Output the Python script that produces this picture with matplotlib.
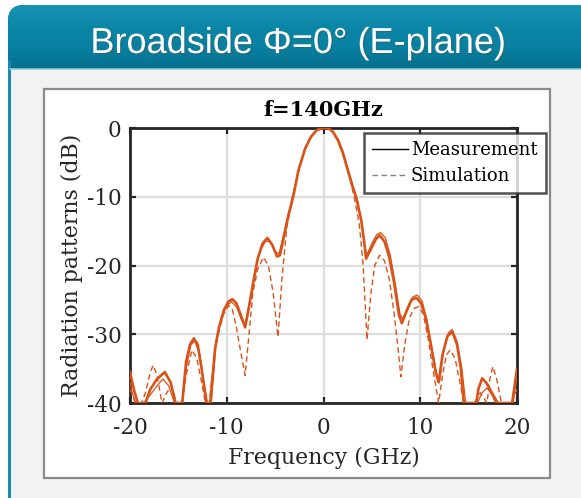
import matplotlib
matplotlib.use("Agg")
import matplotlib.pyplot as plt
import numpy as np
from matplotlib.patches import Rectangle, FancyBboxPatch
from matplotlib.lines import Line2D
import matplotlib.patheffects as pe

plt.rcParams['axes.unicode_minus'] = False

# ---- data: radiation pattern cuts (offset frequency in GHz, level in dB) ----
meas_x = [-20, -19.6, -19.2, -18.4, -17.9, -17.2, -16.4, -15.8, -15.3, -14.6, -14.2, -13.8,
          -13.4, -13.0, -12.6, -12.1, -11.7, -11.2, -10.8, -10.3, -9.8, -9.4, -9.0, -8.6,
          -8.1, -7.7, -7.2, -6.8, -6.3, -5.8, -5.3, -4.8, -4.5, -4.2, -3.7, -3.1, -2.6,
          -1.9, -1.3, -0.7, 0.0, 0.5, 1.0, 1.5, 2.0, 2.5, 3.0, 3.4, 3.9, 4.2, 4.4, 4.9,
          5.4, 5.8, 6.3, 6.8, 7.3, 7.8, 8.1, 8.6, 9.1, 9.6, 10.1, 10.6, 11.1, 11.6, 11.9,
          12.3, 12.8, 13.3, 13.8, 14.2, 14.5, 15.8, 16.0, 16.4, 16.9, 17.4, 18.0, 19.5,
          19.8, 20.0]
meas_db = [-35.5, -38, -40, -40, -38, -36.5, -35.5, -37, -40, -40, -34, -31.5,
           -30.6, -31.5, -35, -40, -40, -32, -29, -26.5, -25.2, -24.9, -25.5, -27,
           -29, -26, -22, -19, -16.8, -16, -17, -18.7, -18.5, -16.5, -13.2, -9.8, -6.2,
           -3.0, -1.3, -0.3, 0, 0, -0.6, -1.8, -3.6, -6.1, -8.5, -10.2, -13.4, -16.5, -19.0, -17.6,
           -16.2, -15.6, -16.5, -18.8, -22.5, -27.2, -28.4, -26.6, -25.0, -24.7, -25.5, -27.8, -31.5, -35.5, -37.0,
           -33.0, -30.3, -29.6, -31.5, -35, -40, -40, -38, -36.4, -37.2, -38.5, -40, -40,
           -37, -35]

meas2_x = [-20, -19.5, -18.6, -18.0, -17.2, -16.6, -16.0, -15.4, -14.6, -14.2, -13.7, -13.3,
           -12.8, -12.3, -12.0, -11.6, -11.1, -10.6, -10.0, -9.5, -9.0, -8.5, -8.1, -7.6,
           -7.1, -6.6, -6.0, -5.5, -5.0, -4.6, -4.2, -3.7, -3.1, -2.5, -1.9, -1.2, -0.5,
           0.3, 0.9, 1.5, 2.0, 2.5, 3.0, 3.5, 3.9, 4.3, 4.5, 5.0, 5.5, 5.9, 6.4, 6.9, 7.4,
           7.9, 8.2, 8.7, 9.2, 9.7, 10.2, 10.7, 11.2, 11.7, 12.0, 12.4, 12.9, 13.3, 13.8,
           14.3, 14.7, 15.9, 16.4, 16.9, 17.4, 17.8, 19.6, 20.0]
meas2_db = [-37, -40, -40, -39, -37.5, -36.5, -37.5, -40, -40, -35, -31.5, -31,
            -33, -37.5, -40, -40, -31, -27.8, -25.8, -25.3, -26, -27.8, -28.8, -25,
            -21, -18, -16.5, -16.5, -18, -18.3, -16, -12.8, -9.4, -5.8, -2.9, -1.0, -0.1,
            0, -0.4, -1.6, -3.4, -5.8, -8.2, -10.5, -13.6, -17.5, -18.4, -16.8, -15.5, -15.2, -16.0, -18.5, -22.5,
            -27.0, -27.8, -26, -24.6, -24.3, -25.2, -28, -32, -36, -36.8, -32.5, -29.8, -29.3, -31,
            -35, -40, -40, -38.5, -37.8, -38.8, -40, -40, -36]

sim_x = [-20, -19.4, -18.8, -18.4, -17.9, -17.6, -17.2, -16.7, -16.2, -15.7, -15.2, -14.6,
         -14.2, -13.6, -13.1, -12.6, -12.2, -11.8, -11.3, -10.8, -10.3, -9.8, -9.4, -9.0,
         -8.5, -8.1, -7.7, -7.3, -6.8, -6.2, -5.7, -5.2, -4.7, -4.3, -3.8, -3.2, -2.6,
         -2.0, -1.4, -0.7, 0.2, 0.9, 1.5, 2.1, 2.7, 3.2, 3.7, 4.1, 4.5, 4.9, 5.3, 5.8,
         6.3, 6.8, 7.3, 7.7, 8.0, 8.4, 8.9, 9.4, 9.8, 10.3, 10.8, 11.3, 11.9, 12.3, 12.7,
         13.1, 13.6, 14.1, 14.5, 15.6, 16.2, 16.9, 17.2, 17.5, 17.9, 18.4, 19.4, 20.0]
sim_db = [-38, -40, -40, -38.5, -35.5, -34.5, -36, -40, -38.5, -37.5, -40, -40,
          -36, -32.3, -33.5, -37, -40, -40, -33, -29.5, -27, -25.8, -26.5, -29,
          -33, -36, -30, -24, -20.5, -18.8, -20, -24, -30.4, -22, -14.5, -10, -6.5,
          -3.5, -1.5, -0.3, 0, -0.4, -1.9, -4.2, -7.2, -10.2, -14, -20, -30.8, -24, -20, -18.5,
          -19.3, -22, -27, -32, -36.2, -31.5, -27.5, -26.2, -26, -27, -30.5, -35, -40, -36, -33,
          -32.3, -33.5, -37, -40, -40, -38.5, -40, -36.5, -34.7, -36.5, -40, -40, -38]

x_ticks = [-20, -10, 0, 10, 20]
y_ticks = [-40, -30, -20, -10, 0]

W, H = 581, 498
fig = plt.figure(figsize=(W / 100, H / 100), dpi=100)
fig.patch.set_facecolor('white')

# ---- slide frame drawn in pixel coordinates ----
bg = fig.add_axes([0, 0, 1, 1], zorder=-5)
bg.set_xlim(0, W)
bg.set_ylim(H, 0)
bg.axis('off')

header = FancyBboxPatch((8, 5), W + 30, 110, boxstyle='round,pad=0,rounding_size=16',
                        facecolor='#0b84a5', edgecolor='none', zorder=1)
bg.add_patch(header)
grad = np.linspace(0, 1, 64).reshape(-1, 1)
cmap = matplotlib.colors.LinearSegmentedColormap.from_list(
    'hdr', ['#1893b3', '#0b86a7', '#0980a1', '#06708f'])
im = bg.imshow(grad, cmap=cmap, extent=(8, W + 30, 69, 5), aspect='auto', zorder=1.5)
im.set_clip_path(header)

bg.add_patch(Rectangle((10, 69), W, H, facecolor='#f2f2f2', edgecolor='none', zorder=2))
bg.plot([9, 9], [60, H], color='#1b8bab', lw=2.2, solid_capstyle='butt', zorder=3)
bg.plot([10, W], [69, 69], color='#8ccbdc', lw=1.2, zorder=3)
bg.text(298, 53, 'Broadside \u03a6=0\u00b0 (E-plane)', color='white', fontsize=26,
        family='Liberation Sans', ha='center', va='baseline', zorder=4,
        path_effects=[pe.withSimplePatchShadow(offset=(1, -1), alpha=0.35)])

bg.add_patch(Rectangle((44, 89), 506, 389, facecolor='white', edgecolor='#8a8a8a', lw=1.6, zorder=4))

# ---- chart ----
ax = fig.add_axes([130 / W, 1 - 403 / H, 387 / W, 275 / H])
line_c = '#D95319'
ax.plot(meas2_x, meas2_db, color=line_c, lw=0.9, zorder=3)
ax.plot(meas_x, meas_db, color=line_c, lw=1.9, zorder=4)
ax.plot(sim_x, sim_db, color=line_c, lw=1.0, ls=(0, (4, 2.5)), zorder=3)

ax.set_xlim(-20, 20)
ax.set_ylim(-40, 0)
ax.set_xticks(x_ticks)
ax.set_yticks(y_ticks)
ax.grid(True, color='#dddddd', lw=1.6)
ax.set_axisbelow(True)
for s in ax.spines.values():
    s.set_linewidth(2.0)
    s.set_color('#262626')
ax.tick_params(direction='in', length=4, width=1.6, top=True, right=True, color='#262626',
               labelsize=15.5, labelcolor='#262626')
ax.tick_params(axis='x', pad=10)
ax.tick_params(axis='y', pad=6)
for lab in ax.get_xticklabels() + ax.get_yticklabels():
    lab.set_family('DejaVu Serif')

ax.set_xlabel('Frequency (GHz)', family='DejaVu Serif', fontsize=15.8, color='#262626', labelpad=6)
ax.set_ylabel('Radiation patterns (dB)', family='DejaVu Serif', fontsize=15.8, color='#262626', labelpad=3)
ax.set_title('f=140GHz', family='DejaVu Serif', fontsize=15, fontweight='bold', pad=9)

handles = [Line2D([], [], color='black', lw=1.0),
           Line2D([], [], color='#808080', lw=1.0, ls=(0, (4, 2.5)))]
leg = ax.legend(handles, ['Measurement', 'Simulation'], loc='upper left',
                bbox_to_anchor=(364 / W, 1 - 133 / H), bbox_transform=fig.transFigure,
                prop={'family': 'DejaVu Serif', 'size': 13}, frameon=True, fancybox=False,
                handlelength=2.0, handletextpad=0.15, borderpad=0.45, labelspacing=0.45,
                borderaxespad=0)
leg.get_frame().set_edgecolor('#262626')
leg.get_frame().set_linewidth(1.8)
leg.set_zorder(10)

fig.savefig('out.png', dpi=100)
